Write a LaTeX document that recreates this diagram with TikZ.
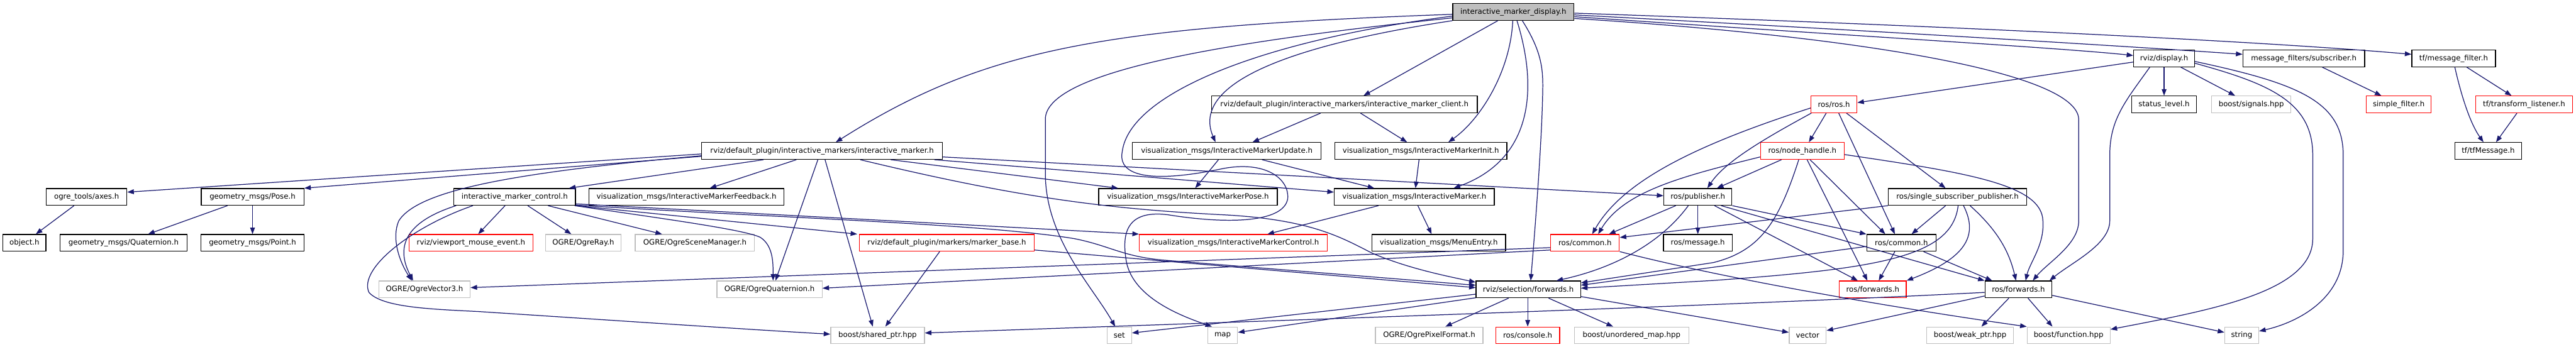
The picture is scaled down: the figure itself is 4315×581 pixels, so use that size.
\documentclass[tikz,border=0pt]{standalone}
\usepackage{fontspec}
\usetikzlibrary{arrows.meta}
\newfontfamily\dvs{DejaVu Sans}
\definecolor{edgec}{HTML}{191970}
\definecolor{grayb}{HTML}{BFBFBF}
\definecolor{topfill}{HTML}{BFBFBF}
\tikzset{
 nb/.style={draw=black, line width=1.3pt, minimum height=28pt, inner sep=0pt, font={\dvs\fontsize{12.4}{14}\selectfont}, text=black},
 bk/.style={nb},
 rd/.style={nb, draw=red},
 gr/.style={nb, draw=grayb},
 e/.style={draw=edgec, line width=1.3pt, -{Triangle[length=11pt,width=8pt]}},
}
\begin{document}
\begin{tikzpicture}[x=1pt,y=-1pt]
\fill[white] (0,0) rectangle (4315,581);
\useasboundingbox (0,0) rectangle (4315,581);
% nodes
\node[bk, fill=topfill, minimum width=203pt] (imd) at (2535,20) {interactive\_marker\_display.h};
\node[bk, minimum width=102pt] (display) at (3625,98) {rviz/display.h};
\node[bk, minimum width=204pt] (mfsub) at (3859,98) {message\_filters/subscriber.h};
\node[bk, minimum width=140pt] (tfmf) at (4110,98) {tf/message\_filter.h};
\node[bk, minimum width=445pt] (imc) at (2252,175) {rviz/default\_plugin/interactive\_markers/interactive\_marker\_client.h};
\node[rd, minimum width=77pt] (rosros) at (3072,175) {ros/ros.h};
\node[bk, minimum width=109pt] (status) at (3625,175) {status\_level.h};
\node[gr, minimum width=133pt] (signals) at (3771,175) {boost/signals.hpp};
\node[rd, minimum width=109pt] (simple) at (4018,175) {simple\_filter.h};
\node[rd, minimum width=162pt] (tfl) at (4228,175) {tf/transform\_listener.h};
\node[bk, minimum width=403pt] (im) at (1377,253) {rviz/default\_plugin/interactive\_markers/interactive\_marker.h};
\node[bk, minimum width=316pt] (vmu) at (2055,253) {visualization\_msgs/InteractiveMarkerUpdate.h};
\node[bk, minimum width=288pt] (vminit) at (2380,253) {visualization\_msgs/InteractiveMarkerInit.h};
\node[rd, minimum width=140pt] (nh) at (3019,253) {ros/node\_handle.h};
\node[bk, minimum width=112pt] (tfmsg) at (4168,253) {tf/tfMessage.h};
\node[bk, minimum width=135pt] (axes) at (145,330) {ogre\_tools/axes.h};
\node[bk, minimum width=172pt] (pose) at (423,330) {geometry\_msgs/Pose.h};
\node[bk, minimum width=204pt] (imctl) at (862,330) {interactive\_marker\_control.h};
\node[bk, minimum width=327pt] (vmfb) at (1150,330) {visualization\_msgs/InteractiveMarkerFeedback.h};
\node[bk, minimum width=299pt] (vmpose) at (1990,330) {visualization\_msgs/InteractiveMarkerPose.h};
\node[bk, minimum width=268pt] (vmim) at (2369,330) {visualization\_msgs/InteractiveMarker.h};
\node[bk, minimum width=114pt] (pub) at (2844,330) {ros/publisher.h};
\node[bk, minimum width=232pt] (ssp) at (3279,330) {ros/single\_subscriber\_publisher.h};
\node[bk, minimum width=72pt] (object) at (41,407) {object.h};
\node[bk, minimum width=212pt] (quat) at (207,407) {geometry\_msgs/Quaternion.h};
\node[bk, minimum width=173pt] (point) at (423,407) {geometry\_msgs/Point.h};
\node[rd, minimum width=207pt] (vme) at (789,407) {rviz/viewport\_mouse\_event.h};
\node[gr, minimum width=126pt] (ray) at (977,407) {OGRE/OgreRay.h};
\node[gr, minimum width=200pt] (scene) at (1164,407) {OGRE/OgreSceneManager.h};
\node[rd, minimum width=293pt] (mbase) at (1586,407) {rviz/default\_plugin/markers/marker\_base.h};
\node[rd, minimum width=315pt] (vmctl) at (2066,407) {visualization\_msgs/InteractiveMarkerControl.h};
\node[bk, minimum width=224pt] (menu) at (2410,407) {visualization\_msgs/MenuEntry.h};
\node[rd, minimum width=115pt] (rcom) at (2655,407) {ros/common.h};
\node[bk, minimum width=115pt] (msg) at (2844,407) {ros/message.h};
\node[bk, minimum width=116pt] (rcom2) at (3185,407) {ros/common.h};
\node[gr, minimum width=153pt] (vec3) at (711,485) {OGRE/OgreVector3.h};
\node[gr, minimum width=176pt] (oquat) at (1289,485) {OGRE/OgreQuaternion.h};
\node[bk, minimum width=175pt] (rsf) at (2560,485) {rviz/selection/forwards.h};
\node[rd, minimum width=112pt] (rfw) at (3137,485) {ros/forwards.h};
\node[bk, minimum width=112pt] (rfw2) at (3381,485) {ros/forwards.h};
\node[gr, minimum width=157pt] (sptr) at (1470,562) {boost/shared\_ptr.hpp};
\node[gr, minimum width=41pt] (set) at (1875,562) {set};
\node[gr, minimum width=50pt] (map) at (2048,562) {map};
\node[gr, minimum width=180pt] (pixfmt) at (2394,562) {OGRE/OgrePixelFormat.h};
\node[rd, minimum width=107pt] (console) at (2559,562) {ros/console.h};
\node[gr, minimum width=192pt] (umap) at (2733,562) {boost/unordered\_map.hpp};
\node[gr, minimum width=62pt] (vector) at (3028,562) {vector};
\node[gr, minimum width=145pt] (weak) at (3300,562) {boost/weak\_ptr.hpp};
\node[gr, minimum width=139pt] (func) at (3465,562) {boost/function.hpp};
\node[gr, minimum width=57pt] (string) at (3755,562) {string};
% edges from interactive_marker_display.h
\draw[e] ([yshift=-4pt]imd.west) .. controls (1850,45) and (1650,80) .. ([xshift=23pt]im.north);
\draw[e] ([yshift=-10pt]imd.west) .. controls (2050,70) and (1751,120) .. (1751,200) -- (1751,290) .. controls (1751,400) and (1830,480) .. ([xshift=-7pt]set.north);
\draw[e] ([yshift=-7pt]imd.west) .. controls (2100,70) and (1893,160) .. (1880,253) .. controls (1870,300) and (1940,305) .. (2046,283) .. controls (2120,268) and (2160,300) .. (2157,333) .. controls (2150,375) and (2050,375) .. (1957,360) .. controls (1880,350) and (1880,400) .. (1887,440) .. controls (1900,500) and (1980,530) .. ([xshift=-18pt]map.north);
\draw[e] (imd.south west) .. controls (2200,70) and (1990,130) .. ([xshift=-19pt]vmu.north);
\draw[e] ([xshift=-26pt]imd.south) -- ([xshift=32pt]imc.north);
\draw[e] ([xshift=-1pt]imd.south) .. controls (2530,120) and (2480,200) .. ([xshift=46pt]vminit.north);
\draw[e] ([xshift=6pt]imd.south) .. controls (2580,160) and (2560,270) .. ([xshift=66pt]vmim.north);
\draw[e] ([xshift=15pt]imd.south) .. controls (2585,90) and (2585,120) .. (2584,160) .. controls (2582,250) and (2570,400) .. ([xshift=4pt]rsf.north);
\draw[e] ([yshift=-2pt]imd.east) .. controls (3300,45) and (3800,70) .. ([yshift=7pt]tfmf.west);
\draw[e] ([yshift=-5pt]imd.east) .. controls (3200,55) and (3600,80) .. ([yshift=7pt]mfsub.west);
\draw[e] ([yshift=-8pt]imd.east) .. controls (3100,60) and (3450,80) .. ([yshift=5pt]display.west);
\draw[e] ([yshift=-11pt]imd.east) .. controls (3100,60) and (3480,120) .. (3482,200) -- (3482,370) .. controls (3482,410) and (3430,440) .. ([xshift=24pt]rfw2.north);
% client / msgs
\draw[e] ([xshift=-40pt]imc.south) -- ([xshift=43pt]vmu.north);
\draw[e] ([xshift=27pt]imc.south) -- ([xshift=-23pt]vminit.north);
\draw[e] ([xshift=-14pt]vmu.south) -- ([xshift=12pt]vmpose.north);
\draw[e] ([xshift=59pt]vmu.south) -- ([xshift=-67pt]vmim.north);
\draw[e] ([xshift=-3pt]vminit.south) -- ([xshift=2pt]vmim.north);
\draw[e] ([xshift=-60pt]vmim.south) -- ([xshift=57pt]vmctl.north);
\draw[e] ([xshift=6pt]vmim.south) -- ([xshift=-12pt]menu.north);
% interactive_marker.h
\draw[e] ([yshift=-5pt]im.west) -- ([yshift=8pt]axes.east);
\draw[e] ([yshift=-9pt]im.west) -- (pose.north east);
\draw[e] ([yshift=-8pt]im.west) .. controls (850,290) and (700,320) .. (668,370) .. controls (655,400) and (670,440) .. ([xshift=-21pt]vec3.north);
\draw[e] ([xshift=-98pt]im.south) -- ([xshift=91pt]imctl.north);
\draw[e] ([xshift=-43pt]im.south) -- ([xshift=39pt]vmfb.north);
\draw[e] ([xshift=-7pt]im.south) -- ([xshift=10pt]oquat.north);
\draw[e] ([xshift=5pt]im.south) -- ([xshift=-8pt]sptr.north);
\draw[e] ([xshift=115pt]im.south) -- ([xshift=-117pt]vmpose.north);
\draw[e] ([yshift=-10pt]im.east) -- ([yshift=2pt]pub.west);
\draw[e] ([xshift=188pt]im.south) -- ([yshift=8pt]vmim.west);
\draw[e] ([xshift=64pt]im.south) .. controls (1700,330) and (1850,350) .. (2050,360) .. controls (2200,368) and (2250,400) .. (2300,425) .. controls (2360,450) and (2420,462) .. ([yshift=12pt]rsf.west);
% interactive_marker_control.h
\draw[e] ([xshift=-98pt]imctl.south) .. controls (700,365) and (655,400) .. ([xshift=-19pt]vec3.north);
\draw[e] ([xshift=-70pt]imctl.south) .. controls (690,380) and (600,450) .. (618,490) .. controls (640,515) and (720,518) .. (800,522) .. controls (1000,535) and (1250,552) .. ([yshift=2pt]sptr.west);
\draw[e] ([xshift=-16pt]imctl.south) -- ([xshift=12pt]vme.north);
\draw[e] ([xshift=22pt]imctl.south) -- ([xshift=-20pt]ray.north);
\draw[e] ([xshift=56pt]imctl.south) -- ([xshift=-55pt]scene.north);
\draw[e] ([xshift=-2pt]imctl.south east) .. controls (1100,365) and (1250,385) .. (1274,398) .. controls (1295,412) and (1295,440) .. ([xshift=6pt]oquat.north);
\draw[e] (imctl.south east) -- ([xshift=-3pt]mbase.north west);
\draw[e] ([yshift=3pt]imctl.south east) -- (vmctl.north west);
\draw[e] ([yshift=1pt]imctl.south east) .. controls (1300,365) and (1650,375) .. (1800,400) .. controls (1860,412) and (1880,430) .. (1950,436) -- ([yshift=7pt]rsf.west);
% marker_base.h
\draw[e] ([yshift=-12pt]mbase.east) -- ([yshift=3pt]rsf.west);
\draw[e] ([xshift=-12pt]mbase.south) -- ([xshift=13pt]sptr.north);
% ros/common.h (red)
\draw[e] ([yshift=-8pt]rcom.west) -- ([yshift=3pt]vec3.east);
\draw[e] ([yshift=-12pt]rcom.west) -- ([yshift=2pt]oquat.east);
\draw[e] (rcom.south east) .. controls (2900,470) and (3200,520) .. (func.north west);
% ros/publisher.h
\draw[e] (pub.south) -- (msg.north);
\draw[e] ([xshift=-37pt]pub.south) -- ([xshift=40pt]rcom.north);
\draw[e] ([xshift=-16pt]pub.south) .. controls (2780,410) and (2700,450) .. ([xshift=47pt]rsf.north);
\draw[e] (pub.south east) -- (rcom2.north west);
\draw[e] ([xshift=28pt]pub.south) -- ([xshift=-25pt]rfw.north);
\draw[e] ([xshift=39pt]pub.south) -- (rfw2.north west);
% ros/node_handle.h
\draw[e] ([xshift=-35pt]nh.south) -- ([xshift=32pt]pub.north);
\draw[e] ([yshift=-10pt]nh.west) .. controls (2820,295) and (2720,320) .. ([xshift=22pt]rcom.north);
\draw[e] ([xshift=-6pt]nh.south) .. controls (2980,370) and (2950,420) .. (2870,440) -- ([yshift=11pt]rsf.east);
\draw[e] ([xshift=8pt]nh.south) -- ([xshift=-9pt]rfw.north);
\draw[e] ([xshift=13pt]nh.south) -- ([xshift=-27pt]rcom2.north);
\draw[e] ([yshift=-6pt]nh.east) .. controls (3300,290) and (3420,310) .. (3422,370) .. controls (3425,410) and (3400,440) .. ([xshift=12pt]rfw2.north);
% ros/ros.h
\draw[e] ([yshift=-6pt]rosros.west) .. controls (2850,240) and (2720,300) .. ([xshift=12pt]rcom.north);
\draw[e] ([xshift=-38pt]rosros.south) .. controls (2960,230) and (2890,270) .. ([xshift=16pt]pub.north);
\draw[e] ([xshift=-13pt]rosros.south) -- ([xshift=11pt]nh.north);
\draw[e] ([xshift=8pt]rosros.south) -- ([xshift=-11pt]rcom2.north);
\draw[e] ([xshift=21pt]rosros.south) -- ([xshift=-20pt]ssp.north);
% ros/single_subscriber_publisher.h
\draw[e] (ssp.south west) -- ([yshift=9pt]rcom.east);
\draw[e] ([xshift=-20pt]ssp.south) -- ([xshift=17pt]rcom2.north);
\draw[e] ([xshift=10pt]ssp.south) .. controls (3312,390) and (3300,430) .. (rfw.north east);
\draw[e] ([xshift=21pt]ssp.south) .. controls (3345,385) and (3365,420) .. ([xshift=-4pt]rfw2.north);
\draw[e] ([xshift=1pt]ssp.south) .. controls (3270,430) and (3150,450) .. (2870,470) -- ([yshift=2pt]rsf.east);
% ros/common.h (black)
\draw[e] ([xshift=-11pt]rcom2.south) -- ([xshift=10pt]rfw.north);
\draw[e] ([xshift=37pt]rcom2.south) -- ([xshift=-44pt]rfw2.north);
\draw[e] ([yshift=-6pt]rcom2.west) -- ([yshift=7pt]rsf.east);
% rviz/selection/forwards.h
\draw[e] ([xshift=-33pt]rsf.south) -- ([xshift=27pt]pixfmt.north);
\draw[e] ([xshift=-1pt]rsf.south) -- (console.north);
\draw[e] ([xshift=34pt]rsf.south) -- ([xshift=-31pt]umap.north);
\draw[e] ([yshift=-12pt]rsf.east) -- ([yshift=5pt]vector.west);
\draw[e] ([yshift=-8pt]rsf.west) -- ([yshift=4pt]set.east);
\draw[e] ([yshift=-14pt]rsf.west) -- ([yshift=5pt]map.east);
% ros/forwards.h (black)
\draw[e] ([yshift=-5pt]rfw2.west) .. controls (2900,512) and (2200,535) .. ([yshift=4pt]sptr.east);
\draw[e] ([yshift=-11pt]rfw2.west) -- ([yshift=8pt]vector.east);
\draw[e] ([xshift=-16pt]rfw2.south) -- ([xshift=19pt]weak.north);
\draw[e] ([xshift=16pt]rfw2.south) -- ([xshift=-27pt]func.north);
\draw[e] ([yshift=-10pt]rfw2.east) -- ([yshift=5pt]string.west);
% rviz/display.h
\draw[e] ([yshift=-6pt]display.west) -- ([yshift=3pt]rosros.east);
\draw[e] (display.south) -- (status.north);
\draw[e] ([xshift=28pt]display.south) -- ([xshift=-27pt]signals.north);
\draw[e] ([xshift=-24pt]display.south) .. controls (3560,170) and (3534,200) .. (3534,260) -- (3534,370) .. controls (3534,410) and (3470,440) .. ([xshift=52pt]rfw2.north);
\draw[e] ([yshift=-8pt]display.east) .. controls (3800,140) and (3874,170) .. (3874,260) -- (3874,400) .. controls (3874,490) and (3700,520) .. ([yshift=10pt]func.east);
\draw[e] ([yshift=-5pt]display.east) .. controls (3850,140) and (3925,170) .. (3925,260) -- (3925,420) .. controls (3925,500) and (3850,540) .. ([yshift=7pt]string.east);
% others
\draw[e] ([xshift=31pt]mfsub.south) -- ([xshift=-29pt]simple.north);
\draw[e] ([xshift=2pt]tfmf.south) .. controls (4125,170) and (4140,210) .. ([xshift=-8pt]tfmsg.north);
\draw[e] ([xshift=22pt]tfmf.south) -- ([xshift=-21pt]tfl.north);
\draw[e] ([xshift=-12pt]tfl.south) -- ([xshift=13pt]tfmsg.north);
\draw[e] ([xshift=-21pt]axes.south) -- ([xshift=19pt]object.north);
\draw[e] ([xshift=-42pt]pose.south) -- ([xshift=41pt]quat.north);
\draw[e] (pose.south) -- (point.north);
\end{tikzpicture}
\end{document}
